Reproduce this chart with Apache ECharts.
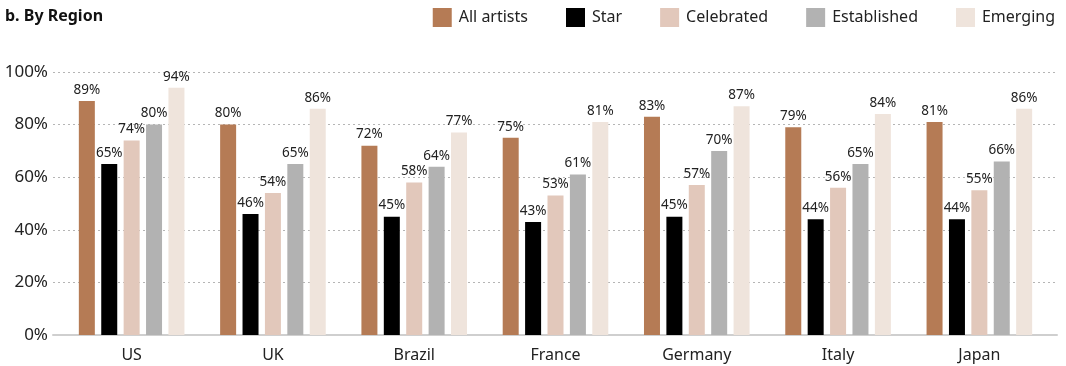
<!DOCTYPE html>
<html>
<head>
<meta charset="utf-8">
<script src="https://cdn.jsdelivr.net/npm/echarts@6/dist/echarts.min.js"></script>
<style>
html,body{margin:0;padding:0;background:#fff;}
#chart{width:1066px;height:366px;}
</style>
</head>
<body>
<div id="chart"></div>
<script>
const categories = ['US', 'UK', 'Brazil', 'France', 'Germany', 'Italy', 'Japan'];
const seriesNames = ['All artists', 'Star', 'Celebrated', 'Established', 'Emerging'];
const allArtists = [89, 80, 72, 75, 83, 79, 81];
const star = [65, 46, 45, 43, 45, 44, 44];
const celebrated = [74, 54, 58, 53, 57, 56, 55];
const established = [80, 65, 64, 61, 70, 65, 66];
const emerging = [94, 86, 77, 81, 87, 84, 86];
const yTicks = [0, 20, 40, 60, 80, 100];
const colors = ['#b57b55', '#000000', '#e2c8bb', '#b2b2b2', '#efe4dc'];

const seriesData = [allArtists, star, celebrated, established, emerging];
const font = '"Noto Sans", "Open Sans", sans-serif';

const chart = echarts.init(document.getElementById('chart'), null, {renderer: 'canvas'});
chart.setOption({
  animation: false,
  title: {
    text: 'b. By Region',
    left: 5, top: 8, padding: 0,
    textStyle: {fontFamily: font, fontWeight: 'bold', fontSize: 16, color: '#111'}
  },
  legend: {
    data: seriesNames,
    right: 11, top: 8, padding: 0,
    icon: 'rect', itemWidth: 19, itemHeight: 19, itemGap: 38,
    textStyle: {fontFamily: font, fontSize: 16, color: '#222', padding: [0, 0, 0, 2]}
  },
  grid: [
    {left: 53, right: 9, top: 72, bottom: 31},
    {left: 61, right: 16, top: 72, bottom: 31}
  ],
  xAxis: [
    {gridIndex: 0, type: 'value', min: 0, max: 1, axisLabel: {show: false}, axisTick: {show: false}, splitLine: {show: false},
     axisLine: {show: true, lineStyle: {color: '#cfcfcf', width: 2}}},
    {gridIndex: 1, type: 'category', data: categories, axisLine: {show: false}, axisTick: {show: false},
     axisLabel: {margin: 12, fontFamily: font, fontSize: 16, color: '#222'}}
  ],
  yAxis: [
    {gridIndex: 0, type: 'value', min: 0, max: 100, interval: 20,
     axisLabel: {formatter: v => yTicks.includes(v) ? v + '%' : '', margin: 5, fontFamily: font, fontSize: 17, color: '#222'},
     axisLine: {show: false}, axisTick: {show: false},
     splitLine: {show: true, lineStyle: {color: '#b5b5b5', type: [2, 3], width: 1}}},
    {gridIndex: 1, type: 'value', min: 0, max: 100, show: false, splitLine: {show: false}}
  ],
  series: seriesNames.map((name, i) => ({
    name: name,
    type: 'bar',
    xAxisIndex: 1, yAxisIndex: 1,
    data: seriesData[i],
    barWidth: 16,
    barGap: '40%',
    itemStyle: {color: colors[i]},
    label: {show: true, position: 'top', distance: 4, formatter: '{c}%',
      fontFamily: font, fontSize: 13.5, color: '#222'}
  }))
});
</script>
</body>
</html>
